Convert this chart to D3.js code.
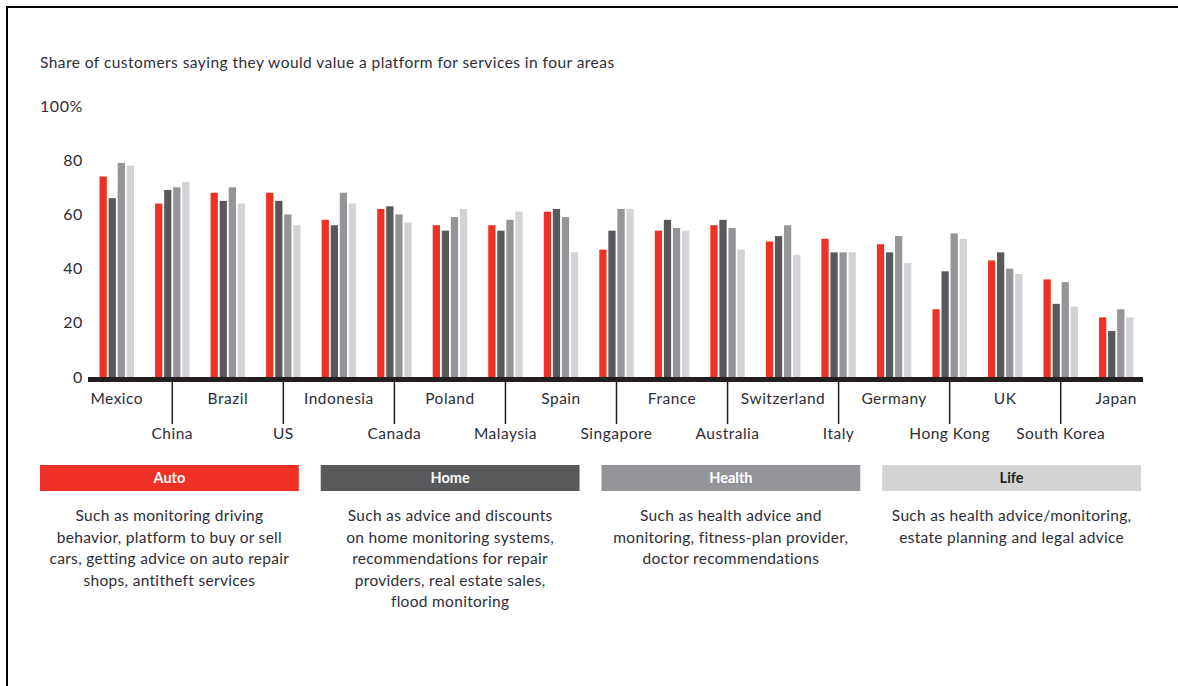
<!DOCTYPE html>
<html>
<head>
<meta charset="utf-8">
<script src="https://cdn.jsdelivr.net/npm/d3@7"></script>
<style>
  html, body { margin: 0; padding: 0; background: #fff; }
  svg { display: block; font-family: Lato, "Open Sans", sans-serif; }
</style>
</head>
<body>
<svg id="chart" width="1178" height="686"></svg>
<script>
// Countries in display order
const countries = ["Mexico", "China", "Brazil", "US", "Indonesia", "Canada", "Poland", "Malaysia",
  "Spain", "Singapore", "France", "Australia", "Switzerland", "Italy", "Germany", "Hong Kong",
  "UK", "South Korea", "Japan"];

// Share of customers (%) valuing a platform, per service area
const autoValues   = [74, 64, 68, 68, 58, 62, 56, 56, 61, 47, 54, 56, 50, 51, 49, 25, 43, 36, 22];
const homeValues   = [66, 69, 65, 65, 56, 63, 54, 54, 62, 54, 58, 58, 52, 46, 46, 39, 46, 27, 17];
const healthValues = [79, 70, 70, 60, 68, 60, 59, 58, 59, 62, 55, 55, 56, 46, 52, 53, 40, 35, 25];
const lifeValues   = [78, 72, 64, 56, 64, 57, 62, 61, 46, 62, 54, 47, 45, 46, 42, 51, 38, 26, 22];

const seriesNames = ["Auto", "Home", "Health", "Life"];
const seriesColors = ["#ee3124", "#58595b", "#939598", "#d1d3d4"];
const seriesValues = [autoValues, homeValues, healthValues, lifeValues];

const yTicks = [0, 20, 40, 60, 80, 100];

const descriptions = [
  ["Such as monitoring driving", "behavior, platform to buy or sell", "cars, getting advice on auto repair", "shops, antitheft services"],
  ["Such as advice and discounts", "on home monitoring systems,", "recommendations for repair", "providers, real estate sales,", "flood monitoring"],
  ["Such as health advice and", "monitoring, fitness-plan provider,", "doctor recommendations"],
  ["Such as health advice/monitoring,", "estate planning and legal advice"]
];

const title = "Share of customers saying they would value a platform for services in four areas";

const svg = d3.select("#chart");
const textColor = "#2d2d38";
const axisColor = "#231f20";

// Frame: top and left rules
svg.append("line").attr("x1", 6).attr("x2", 1178).attr("y1", 7).attr("y2", 7)
  .attr("stroke", "#000").attr("stroke-width", 2);
svg.append("line").attr("x1", 7).attr("x2", 7).attr("y1", 6).attr("y2", 686)
  .attr("stroke", "#000").attr("stroke-width", 2);

svg.append("text").attr("x", 40).attr("y", 68)
  .attr("fill", textColor).attr("font-size", 15.5).attr("letter-spacing", 0.45).text(title);

// Scales
const x0 = d3.scaleBand().domain(countries).range([89, 1144]).paddingInner(0.38).paddingOuter(0.19);
const x1 = d3.scaleBand().domain(seriesNames).range([0, x0.bandwidth()]).paddingInner(0.2);
const y = d3.scaleLinear().domain([0, 100]).range([377, 106]);

// Y axis labels
const yAxis = d3.axisLeft(y).tickValues(yTicks).tickSize(0).tickPadding(0)
  .tickFormat(d => d === 100 ? "100%" : d);
const yg = svg.append("g").attr("transform", "translate(83,0)").call(yAxis);
yg.select(".domain").remove();
yg.selectAll("text").attr("fill", textColor).attr("font-size", 16).attr("letter-spacing", 0.6)
  .attr("font-family", "Lato, sans-serif");

// Bars
const rows = countries.map((c, i) => ({ country: c, vals: seriesNames.map((s, k) => ({ s, v: seriesValues[k][i], color: seriesColors[k] })) }));
const groups = svg.append("g").selectAll("g").data(rows).join("g")
  .attr("transform", d => `translate(${x0(d.country)},0)`);
groups.selectAll("rect").data(d => d.vals).join("rect")
  .attr("x", d => x1(d.s))
  .attr("width", x1.bandwidth())
  .attr("y", d => y(d.v))
  .attr("height", d => y(0) - y(d.v))
  .attr("fill", d => d.color);

// Baseline
svg.append("rect").attr("x", 88).attr("y", y(0)).attr("width", 1143 - 88).attr("height", 5)
  .attr("fill", axisColor);

// Category labels on two staggered rows, with leader lines for the lower row
const center = c => x0(c) + x0.bandwidth() / 2;
const labels = svg.append("g");
countries.forEach((c, i) => {
  if (i % 2 === 1) {
    labels.append("line").attr("x1", center(c)).attr("x2", center(c))
      .attr("y1", y(0) + 5).attr("y2", 424)
      .attr("stroke", axisColor).attr("stroke-width", 1.5);
  }
  labels.append("text")
    .attr("x", center(c))
    .attr("y", i % 2 === 0 ? 404 : 439)
    .attr("text-anchor", "middle")
    .attr("fill", textColor).attr("font-size", 15.5).attr("letter-spacing", 0.5)
    .text(c);
});

// Legend with descriptions
const legendX = d3.scaleBand().domain(seriesNames).range([40, 1141]).paddingInner(0.078);
const legend = svg.append("g").selectAll("g").data(seriesNames).join("g")
  .attr("transform", d => `translate(${legendX(d)},465)`);
legend.append("rect").attr("width", legendX.bandwidth()).attr("height", 26)
  .attr("fill", (d, k) => seriesColors[k]);
legend.append("text").attr("x", legendX.bandwidth() / 2).attr("y", 18)
  .attr("text-anchor", "middle").attr("font-weight", "bold").attr("font-size", 14.5)
  .attr("fill", (d, k) => k === 3 ? "#231f20" : "#fff")
  .text(d => d);
legend.each(function (d, k) {
  const g = d3.select(this);
  descriptions[k].forEach((line, j) => {
    g.append("text").attr("x", legendX.bandwidth() / 2).attr("y", 56 + j * 21.5)
      .attr("text-anchor", "middle").attr("fill", textColor).attr("font-size", 15.5)
      .attr("letter-spacing", 0.3)
      .text(line);
  });
});
</script>
</body>
</html>
